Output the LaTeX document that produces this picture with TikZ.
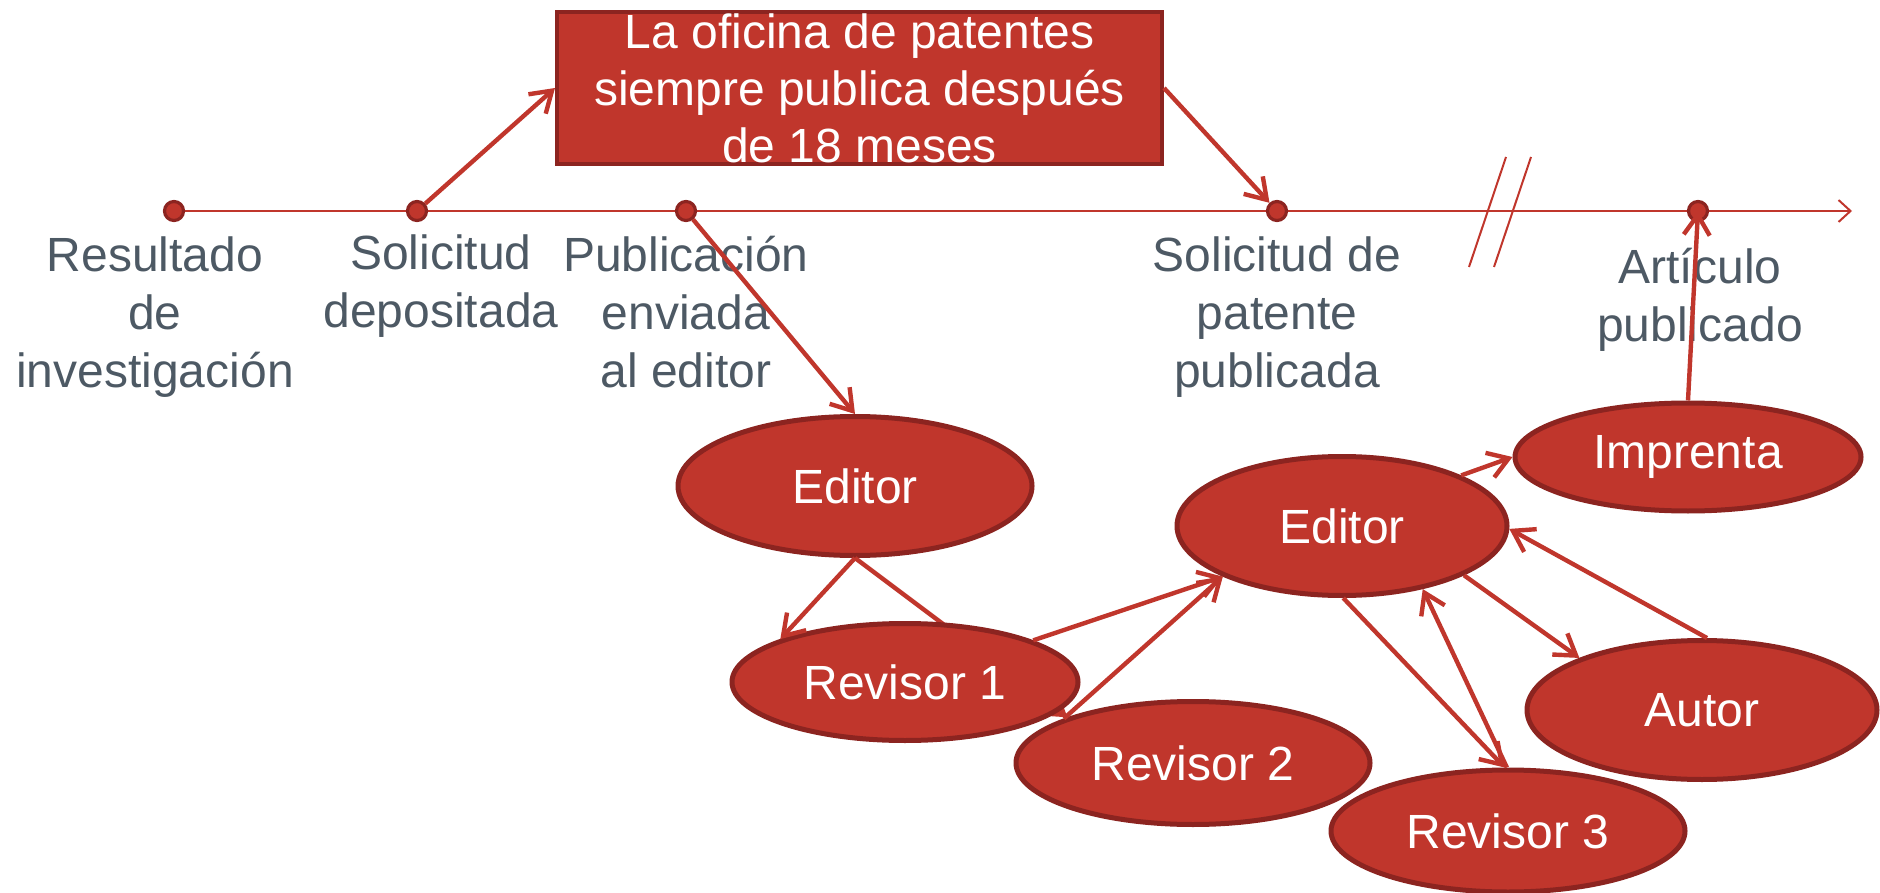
\documentclass[tikz,border=0pt]{standalone}
\usepackage{fontspec}
\setmainfont{Liberation Sans}
\usetikzlibrary{shapes.geometric,arrows.meta}
\definecolor{myred}{HTML}{C0362C}
\definecolor{bordred}{HTML}{8C2420}
\definecolor{txtgray}{HTML}{4D5964}
\begin{document}
\begin{tikzpicture}[x=0.5pt,y=-0.5pt,
  ell/.style={ellipse, fill=myred, draw=bordred, line width=2.5pt, inner sep=0pt, text=white, font=\fontsize{24pt}{28pt}\selectfont},
  tdot/.style={circle, fill=myred, draw=bordred, line width=1.6pt, minimum size=9.5pt, inner sep=0pt},
  lbl/.style={align=center, text=txtgray, font=\fontsize{24pt}{29pt}\selectfont, inner sep=0pt, anchor=base},
  conn/.style={draw=myred, line width=2.2pt, -{Straight Barb[length=10pt,width=13pt]}},
  tl/.style={draw=myred, line width=1pt},
]
\useasboundingbox (0,0) rectangle (1880,893);

% timeline
\coordinate (tstart) at (174,211);
\coordinate (tend) at (1852,211);
\draw[tl, -{Straight Barb[length=6pt,width=11pt]}] (tstart) -- (tend);
\coordinate (b1a) at (1506,157);
\coordinate (b1b) at (1469,267);
\coordinate (b2a) at (1531,157);
\coordinate (b2b) at (1494,267);
\draw[tl] (b1a) -- (b1b);
\draw[tl] (b2a) -- (b2b);

% dots
\node[tdot] (d1) at (174,211) {};
\node[tdot] (d2) at (417,211) {};
\node[tdot] (d3) at (686,211) {};
\node[tdot] (d4) at (1277,211) {};
\node[tdot] (d5) at (1698,211) {};

% labels (base anchor = last line's baseline)
\node[lbl] (l1) at (155,387) {Resultado\\de\\investigación};
\node[lbl] (l2) at (441,328) {Solicitud\\depositada};
\node[lbl] (l3) at (686,387) {Publicación\\enviada\\al editor};
\node[lbl] (l4) at (1277,387) {Solicitud de\\patente\\publicada};
\node[lbl] (l5) at (1700,342) {Artículo\\publicado};

% box
\node[draw=bordred, fill=myred, line width=2pt, minimum width=302.5pt, minimum height=76pt,
      inner sep=0pt, align=center, text=white, font=\fontsize{24pt}{28.5pt}\selectfont]
  (box) at (859.5,88) {La oficina de patentes\\siempre publica después\\de 18 meses};

% ellipses
\node[ell, minimum width=177pt, minimum height=61.5pt] (r2) at (1193,763) {Revisor 2};
\node[ell, minimum width=177pt, minimum height=69.5pt] (e1) at (855,486) {Editor};
\draw[conn] (e1.south) -- (r2.160);
\node[ell, minimum width=173pt, minimum height=58.5pt] (r1) at (905,682) {Revisor 1};
\node[ell, minimum width=165pt, minimum height=69.5pt] (e2) at (1342,526) {Editor};
\node[ell, minimum width=173pt, minimum height=54pt] (imp) at (1688,457) {Imprenta};
\node[ell, minimum width=175pt, minimum height=69.5pt] (aut) at (1702,710) {Autor};
\node[ell, minimum width=177pt, minimum height=61pt] (r3) at (1508,831) {Revisor 3};

% connectors
\draw[conn] (d2) -- (box.west);
\draw[conn] (box.east) -- (d4);
\draw[conn] (d3) -- (e1.north);
\draw[conn] (e1.south) -- (r1.161);
\draw[conn] (r1.18) -- (e2.203);
\draw[conn] (r2.161) -- (e2.203);
\draw[conn] (e2.271) -- (r3.93);
\draw[conn] (r3.91) -- (e2.322);
\draw[conn] (e2.338) -- (aut.157);
\draw[conn] (aut.86) -- (e2.359);
\draw[conn] (e2.23) -- (imp.west);
\draw[conn] (imp.north) -- (d5.center);
\end{tikzpicture}
\end{document}
